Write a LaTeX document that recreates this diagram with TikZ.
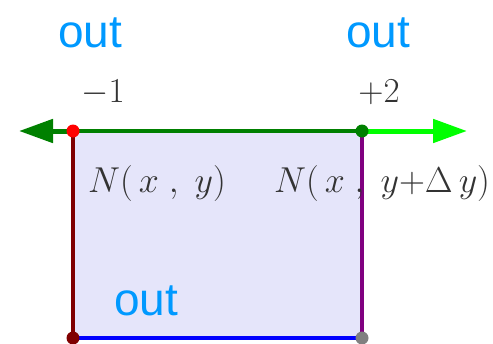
\RequirePackage{fix-cm}
\documentclass[tikz,border=0pt]{standalone}
\usepackage{amsmath,amssymb}
\usepackage{fontspec}
\usepackage{tikz}
\usetikzlibrary{arrows.meta,positioning,calc}

\newfontfamily\outfont{Liberation Sans}
\definecolor{outblue}{RGB}{0,153,255}
\definecolor{cellfill}{RGB}{229,229,250}
\definecolor{labelgray}{RGB}{51,51,51}
\definecolor{darkgreen}{RGB}{0,128,0}
\definecolor{limegreen}{RGB}{0,255,0}
\definecolor{darkred}{RGB}{128,0,0}
\definecolor{edgepurple}{RGB}{128,0,128}

\tikzset{
    outlabel/.style={font=\outfont\fontsize{46}{50}\selectfont, text=outblue, anchor=base, inner sep=0pt},
    coeflabel/.style={font=\fontsize{35}{40}\selectfont, text=labelgray, anchor=base, inner sep=0pt},
    mathlabel/.style={font=\fontsize{36}{42}\selectfont, text=labelgray, anchor=base, inner sep=0pt},
    edge/.style={line width=3.8pt},
    flux/.style={line width=5pt, -{Triangle[length=34pt,width=23pt]}},
    corner/.style={circle, inner sep=0pt, minimum size=13pt},
}

\begin{document}
\begin{tikzpicture}[x=1pt,y=-1pt]
\useasboundingbox (0,0) rectangle (493,343);

% cell corners
\coordinate (tl) at (73,131);
\coordinate (tr) at (362,131);
\coordinate (bl) at (73,338);
\coordinate (br) at (362,338);
\coordinate (westend) at (19,131);
\coordinate (eastend) at (467,131);

\fill[cellfill] (tl) rectangle (br);

% edges
\draw[edge, darkgreen] (tl) -- (tr);
\draw[edge, darkred] (tl) -- (bl);
\draw[edge, edgepurple] (tr) -- (br);
\draw[edge, blue] (bl) -- (br);

% fluxes
\draw[flux, darkgreen] (tl) -- (westend);
\draw[flux, limegreen] (tr) -- (eastend);

\node[corner, fill=red] (ptl) at (tl) {};
\node[corner, fill=darkgreen] (ptr) at (tr) {};
\node[corner, fill=darkred] (pbl) at (bl) {};
\node[corner, fill=gray] (pbr) at (br) {};

% labels
\node[outlabel] (outwest) at (90,47) {out};
\node[outlabel] (outeast) at (378,47) {out};
\node[outlabel] (outsouth) at (146,315) {out};
\node[coeflabel] (wcoef) at (103,102) {$-1$};
\node[coeflabel] (ecoef) at (379,102) {$+2$};
\node[mathlabel] (nwest) at (157,192) {$N(\,x\;,\;y)$};
\node[mathlabel] (neast) at (382,192) {$N(\,x\;,\;y{+}\Delta\,y)$};
\end{tikzpicture}
\end{document}
